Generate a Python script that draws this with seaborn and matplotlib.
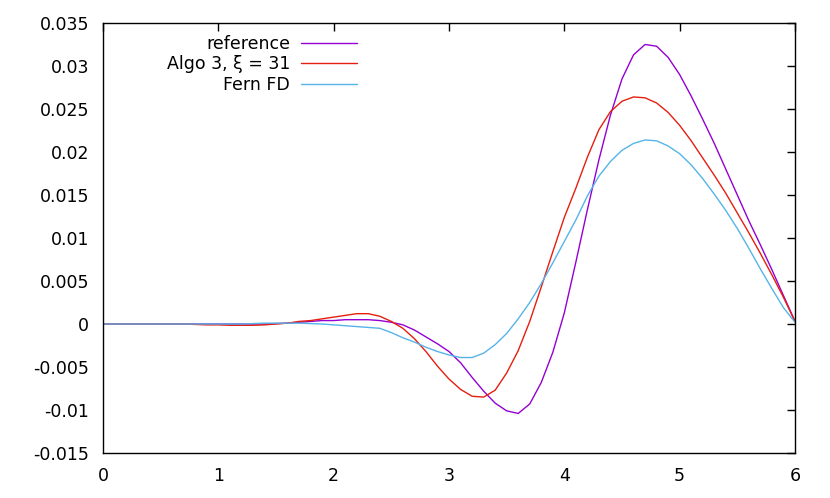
import numpy as np
import pandas as pd
import seaborn as sns
import matplotlib.pyplot as plt

x_values = [round(0.1 * i, 1) for i in range(61)]

reference = [0, 0, 0, 0, 0, 0, 0, 0, 0, 0,
             0, 0, 0, 0, 0, 0.00005, 0.0001, 0.0002, 0.0003, 0.0004,
             0.0004, 0.0005, 0.0005, 0.0005, 0.0004, 0.0002, -0.0001, -0.0007, -0.0015, -0.0023,
             -0.0032, -0.0045, -0.0062, -0.0078, -0.0092, -0.0101, -0.0104, -0.0093, -0.0068, -0.0033,
             0.0013, 0.0072, 0.0133, 0.0191, 0.0243, 0.0285, 0.0313, 0.0325, 0.0323, 0.0310,
             0.0290, 0.0265, 0.0238, 0.0210, 0.0180, 0.0150, 0.0120, 0.0092, 0.0063, 0.0033,
             0.0003]

algo3 = [0, 0, 0, 0, 0, 0, 0, 0, -0.00005, -0.0001,
         -0.0001, -0.00015, -0.00015, -0.00015, -0.0001, 0.0, 0.0001, 0.0003, 0.0004, 0.0006,
         0.0008, 0.0010, 0.0012, 0.0012, 0.0009, 0.0003, -0.0005, -0.0017, -0.0032, -0.0049,
         -0.0064, -0.0076, -0.0084, -0.0085, -0.0077, -0.0057, -0.0031, 0.0003, 0.0043, 0.0084,
         0.0124, 0.0158, 0.0194, 0.0226, 0.0247, 0.0259, 0.0264, 0.0263, 0.0257, 0.0246,
         0.0231, 0.0213, 0.0193, 0.0173, 0.0152, 0.0129, 0.0106, 0.0082, 0.0057, 0.0031,
         0.0003]

fern_fd = [0, 0, 0, 0, 0, 0, 0, 0, 0, 0,
           0, 0, 0, 0.00005, 0.0001, 0.0001, 0.0001, 0.0001, 0.00005, 0.0,
           -0.0001, -0.0002, -0.0003, -0.0004, -0.0005, -0.0010, -0.0016, -0.0021, -0.0027, -0.0032,
           -0.0036, -0.0039, -0.0039, -0.0034, -0.0024, -0.0011, 0.0006, 0.0025, 0.0047, 0.0071,
           0.0096, 0.0121, 0.0149, 0.0172, 0.0189, 0.0202, 0.0210, 0.0214, 0.0213, 0.0207,
           0.0198, 0.0185, 0.0169, 0.0151, 0.0132, 0.0111, 0.0088, 0.0064, 0.0041, 0.0019,
           0.0002]

labels = ["reference", "Algo 3, ξ = 31", "Fern FD"]
colors = ["#9400d3", "#e51e10", "#56b4e9"]

y_ticks = [-0.015, -0.01, -0.005, 0, 0.005, 0.01, 0.015, 0.02, 0.025, 0.03, 0.035]
y_tick_labels = ["-0.015", "-0.01", "-0.005", "0", "0.005", "0.01", "0.015",
                 "0.02", "0.025", "0.03", "0.035"]
x_ticks = [0, 1, 2, 3, 4, 5, 6]


def main():
    sns.set_style("white")
    plt.rcParams["font.family"] = ["DejaVu Sans"]
    plt.rcParams["text.color"] = "black"
    plt.rcParams["xtick.color"] = "black"
    plt.rcParams["ytick.color"] = "black"

    data = pd.DataFrame({"x": x_values * 3,
                         "y": reference + algo3 + fern_fd,
                         "series": [labels[0]] * 61 + [labels[1]] * 61 + [labels[2]] * 61})

    fig = plt.figure(figsize=(8.3, 4.98), dpi=100)
    ax = fig.add_axes([103 / 830, 1 - 453 / 498, 692 / 830, 430 / 498])

    sns.lineplot(data=data, x="x", y="y", hue="series", hue_order=labels,
                 palette=colors, linewidth=1.0, ax=ax)

    ax.set_xlim(0, 6)
    ax.set_ylim(-0.015, 0.035)
    ax.set_xticks(x_ticks)
    ax.set_xticklabels([str(t) for t in x_ticks])
    ax.set_yticks(y_ticks)
    ax.set_yticklabels(y_tick_labels)
    ax.set_xlabel(None)
    ax.set_ylabel(None)

    ax.tick_params(direction="in", length=6, width=1, color="black", labelcolor="black",
                   top=True, right=True, labelsize=12.5, pad=10)
    for spine in ax.spines.values():
        spine.set_visible(True)
        spine.set_color("black")
        spine.set_linewidth(1)

    leg = ax.legend(loc="upper right", bbox_to_anchor=(0.367, 0.973), markerfirst=False,
                    frameon=False, fontsize=12.5, handlelength=3.2, handletextpad=0.65,
                    labelspacing=0.16, borderpad=0, borderaxespad=0)
    for text in leg.get_texts():
        text.set_color("black")

    fig.savefig("out.png", dpi=100)


if __name__ == '__main__':
    main()
